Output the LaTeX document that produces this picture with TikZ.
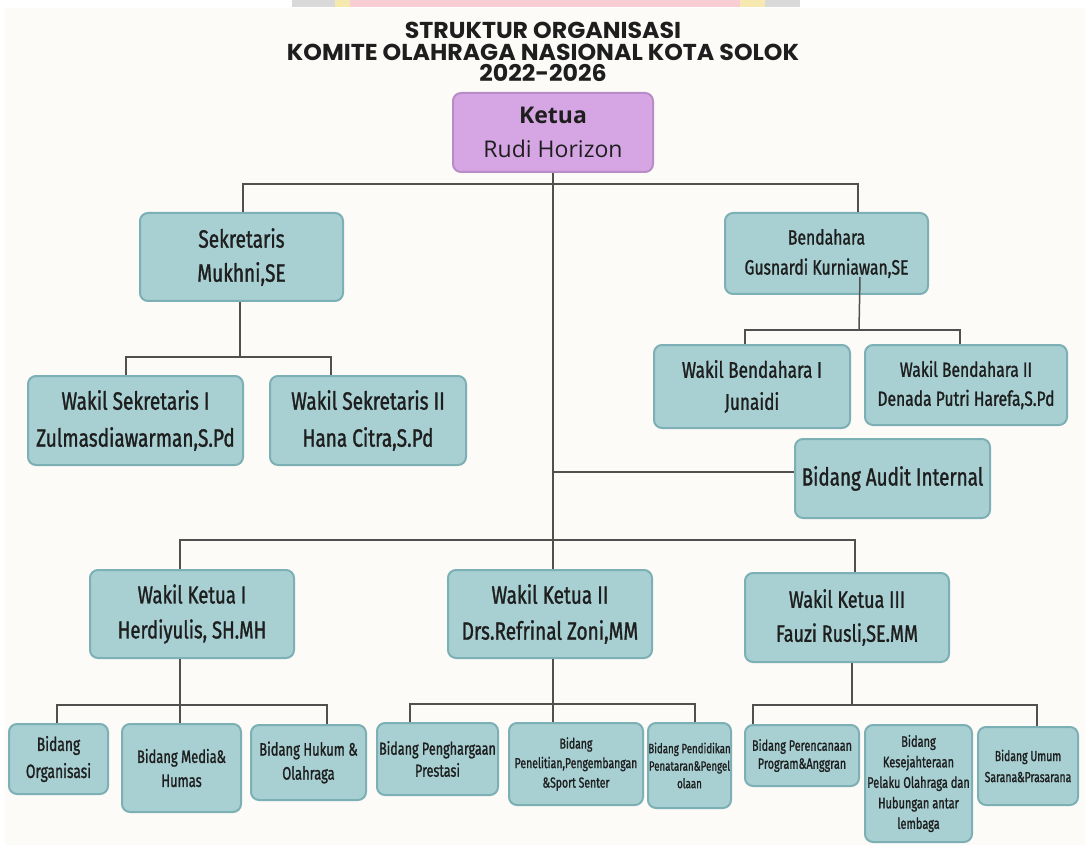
\documentclass[tikz,border=0pt]{standalone}
\usepackage{fontspec}
\setmainfont{Fira Sans}
\newfontfamily\cf[FakeStretch=0.76,FakeBold=1.2]{Fira Sans}
\newfontfamily\bcf[FakeStretch=0.72,FakeBold=1.2]{Fira Sans}
\newfontfamily\tf[FakeStretch=1.03]{Poppins}
\newfontfamily\kf{Open Sans}
\definecolor{bgc}{HTML}{FCFBF8}
\definecolor{tealf}{HTML}{A8D0D3}
\definecolor{tealb}{HTML}{7DB0B4}
\definecolor{purf}{HTML}{D5A6E3}
\definecolor{purb}{HTML}{B98BC7}
\definecolor{linec}{HTML}{505050}
\definecolor{txt}{HTML}{1E1E1E}
\definecolor{wpink}{HTML}{F9CDD4}
\definecolor{wgray}{HTML}{D9D9D9}
\definecolor{wyel}{HTML}{F6E9B0}
\tikzset{
  box/.style={draw=tealb, fill=tealf, rounded corners=8pt, line width=2pt,
    align=center, inner sep=0pt, text=txt},
  kbox/.style={draw=purb, fill=purf, rounded corners=8pt, line width=2pt,
    align=center, inner sep=0pt, text=txt},
  conn/.style={draw=linec, line width=1.5pt},
}
\newcommand{\fsz}[2]{\cf\fontsize{#1}{#2}\selectfont}
\newcommand{\fsb}[2]{\bcf\fontsize{#1}{#2}\selectfont}
\begin{document}
\begin{tikzpicture}[x=1pt,y=-1pt]
\useasboundingbox (0,0) rectangle (1085,845);
\fill[white] (0,0) rectangle (1085,845);
\fill[bgc] (5,8) rectangle (1085,845);
% faint strip at top
\fill[wgray] (292,0) rectangle (800,7);
\fill[wyel] (335,0) rectangle (765,7);
\fill[wpink] (350,0) rectangle (740,7);

% title
\node[font={\tf\bfseries\fontsize{23}{21.5}\selectfont}, text=txt, align=center, inner sep=0pt] (title) at (543,52)
  {STRUKTUR ORGANISASI\\KOMITE OLAHRAGA NASIONAL KOTA SOLOK\\2022-2026};

% boxes
\node[kbox, minimum width=200, minimum height=79, font={\kf\fontsize{23}{34}\selectfont}] (ketua) at (553,132.5)
  {\textbf{Ketua}\\Rudi Horizon};
\node[box, minimum width=203, minimum height=88, font={\fsz{25}{34}}] (sek) at (241.5,257)
  {Sekretaris\\Mukhni,SE};
\node[box, minimum width=215, minimum height=89, font={\fsz{25}{37}}] (wsek1) at (135.5,420.5)
  {Wakil Sekretaris I\\Zulmasdiawarman,S.Pd};
\node[box, minimum width=196, minimum height=89, font={\fsz{25}{37}}] (wsek2) at (368,420.5)
  {Wakil Sekretaris II\\Hana Citra,S.Pd};
\node[box, minimum width=203, minimum height=81, font={\fsz{20.7}{30}}] (bend) at (826.5,253.5)
  {Bendahara\\Gusnardi Kurniawan,SE};
\node[box, minimum width=196, minimum height=83, font={\fsz{22.6}{32}}] (wbend1) at (752,386.5)
  {Wakil Bendahara I\\Junaidi};
\node[box, minimum width=202, minimum height=80, font={\fsz{20.6}{29}}] (wbend2) at (966,385)
  {Wakil Bendahara II\\Denada Putri Harefa,S.Pd};
\node[box, minimum width=195, minimum height=79, font={\fsz{24.8}{34}}] (audit) at (892.5,478.5)
  {Bidang Audit Internal};
\node[box, minimum width=204, minimum height=88, font={\fsz{24.4}{35}}] (wk1) at (192,614)
  {Wakil Ketua I\\Herdiyulis, SH.MH};
\node[box, minimum width=204, minimum height=88, font={\fsz{25}{36}}] (wk2) at (550,614)
  {Wakil Ketua II\\Drs.Refrinal Zoni,MM};
\node[box, minimum width=204, minimum height=89, font={\fsz{23.7}{34}}] (wk3) at (847,617.5)
  {Wakil Ketua III\\Fauzi Rusli,SE.MM};

\node[box, minimum width=99, minimum height=70, font={\fsb{19.2}{27}}] (b1) at (58.5,759)
  {Bidang\\Organisasi};
\node[box, minimum width=119, minimum height=88, font={\fsb{18}{24}}] (b2) at (181.5,768)
  {Bidang Media\&\\Humas};
\node[box, minimum width=115, minimum height=75, font={\fsb{18}{24}}] (b3) at (308.5,762.5)
  {Bidang Hukum \&\\Olahraga};
\node[box, minimum width=121, minimum height=72, font={\fsb{17.5}{22}}] (b4) at (437.5,759)
  {Bidang Penghargaan\\Prestasi};
\node[box, minimum width=134, minimum height=82, font={\fsb{14.5}{19.5}}] (b5) at (576,764)
  {Bidang\\Penelitian,Pengembangan\\\&Sport Senter};
\node[box, minimum width=83, minimum height=85, font={\fsb{13.5}{17.5}}] (b6) at (689.5,765.5)
  {Bidang Pendidikan\\Penataran\&Pengel\\olaan};
\node[box, minimum width=114, minimum height=61, font={\fsb{15}{18}}] (b7) at (802,755.5)
  {Bidang Perencanaan\\Program\&Anggran};
\node[box, minimum width=107, minimum height=117, font={\fsb{15.3}{20.5}}] (b8) at (918.5,783.5)
  {Bidang\\Kesejahteraan\\Pelaku Olahraga dan\\Hubungan antar\\lembaga};
\node[box, minimum width=100, minimum height=78, font={\fsb{14.5}{21}}] (b9) at (1028,766)
  {Bidang Umum\\Sarana\&Prasarana};

% junction coordinates
\coordinate (j1) at (553,184);
\coordinate (j2) at (553,472);
\coordinate (j3) at (553,540);
\coordinate (sbus) at (240,357);
\coordinate (bb0) at (860,277);
\coordinate (bbus) at (859,330);
\coordinate (k1bus) at (180,705);
\coordinate (k2bus) at (553,704);
\coordinate (k3bus) at (852,705);

% connectors
\draw[conn] (ketua.south) -- (wk2.north -| ketua.south);
\draw[conn] (sek.north -| 243,0) |- (j1) -| (bend.north -| 858,0);
\draw[conn] (sek.south -| sbus) -- (sbus);
\draw[conn] (wsek1.north -| 126,0) |- (sbus) -| (wsek2.north -| 331,0);
\draw[conn] (bb0) -- (bbus);
\draw[conn] (wbend1.north -| 745,0) |- (bbus) -| (wbend2.north -| 960,0);
\draw[conn] (j2) -- (j2 -| audit.west);
\draw[conn] (wk1.north -| 180,0) |- (j3) -| (wk3.north -| 855,0);

\draw[conn] (wk1.south -| k1bus) -- (k1bus);
\draw[conn] (b1.north -| 57,0) |- (k1bus) -| (b3.north -| 327,0);
\draw[conn] (k1bus) -- (b2.north -| k1bus);

\draw[conn] (wk2.south -| k2bus) -- (b5.north -| k2bus);
\draw[conn] (b4.north -| 410,0) |- (k2bus) -| (b6.north -| 695,0);

\draw[conn] (wk3.south -| k3bus) -- (k3bus);
\draw[conn] (b7.north -| 753,0) |- (k3bus) -| (b9.north -| 1037,0);
\draw[conn] (b8.north -| 918,0) -- (b8.north -| 918,0 |- k3bus);
\end{tikzpicture}
\end{document}
